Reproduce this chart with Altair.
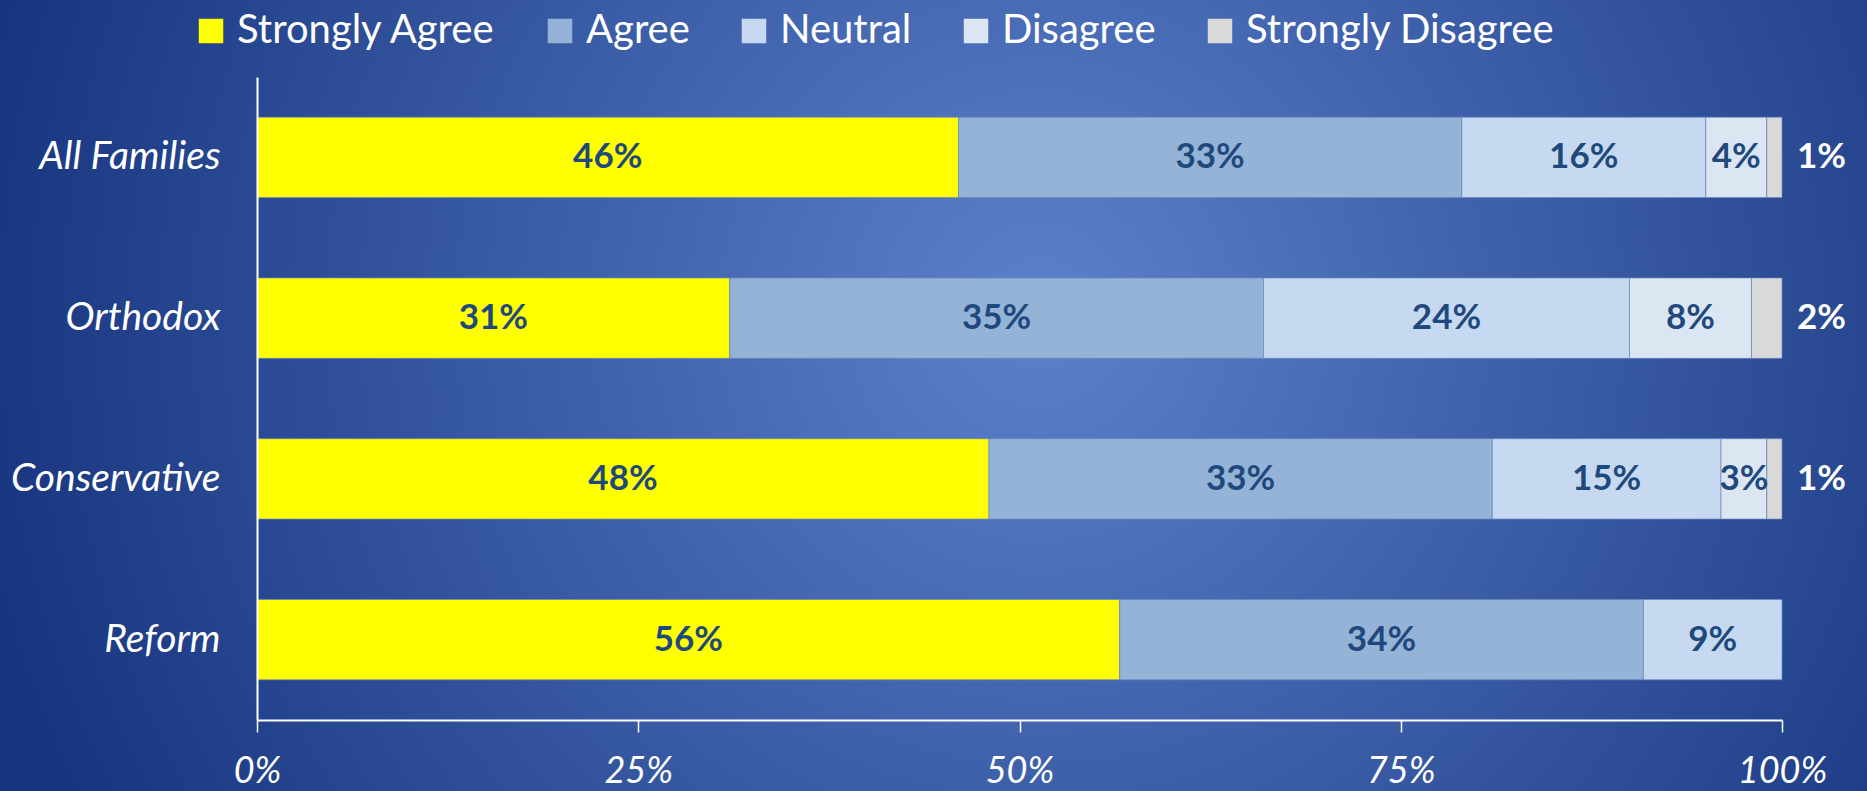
import altair as alt
import pandas as pd

# Survey responses by family affiliation (percent of respondents)
groups = ["All Families", "Orthodox", "Conservative", "Reform"]
responses = ["Strongly Agree", "Agree", "Neutral", "Disagree", "Strongly Disagree"]
colors = ["#ffff00", "#95b3d7", "#c6d9f1", "#dce6f2", "#d9d9d9"]

strongly_agree = [46, 31, 48, 56]
agree = [33, 35, 33, 34]
neutral = [16, 24, 15, 9]
disagree = [4, 8, 3, None]
strongly_disagree = [1, 2, 1, None]

series = [strongly_agree, agree, neutral, disagree, strongly_disagree]
rows = []
for i, g in enumerate(groups):
    for j, resp in enumerate(responses):
        v = series[j][i]
        if v is None:
            continue
        rows.append({"group": g, "response": resp, "order": j, "value": v})
df = pd.DataFrame(rows)

W, H = 1525, 643
PAD = {"left": 257, "top": 77, "right": 85, "bottom": 71}
FONT = "Lato"
WHITE = "#ffffff"
DARK = "#1f497d"

# Radial blue backdrop spanning the whole canvas
backdrop = alt.Chart(pd.DataFrame({"k": [0]})).mark_rect(
    fill=alt.Gradient(
        gradient="radial",
        x1=0.557, y1=0.457, r1=0,
        x2=0.557, y2=0.457, r2=0.58,
        stops=[
            alt.GradientStop(offset=0, color="#5c81cb"),
            alt.GradientStop(offset=1, color="#17357e"),
        ],
    )
).encode(
    x=alt.value(-PAD["left"]),
    x2=alt.value(W + PAD["right"]),
    y=alt.value(-PAD["top"]),
    y2=alt.value(H + PAD["bottom"]),
)

base = alt.Chart(df).transform_stack(
    stack="value",
    as_=["v0", "v1"],
    groupby=["group"],
    sort=[alt.SortField("order", order="ascending")],
    offset="normalize",
).transform_calculate(
    mid="(datum.v0 + datum.v1) / 2",
    label="datum.value + '%'",
)

y_enc = alt.Y(
    "group:N",
    sort=groups,
    scale=alt.Scale(paddingInner=0.5, paddingOuter=0.25),
    axis=alt.Axis(
        title=None,
        ticks=False,
        domainColor=WHITE,
        domainWidth=2,
        labelColor=WHITE,
        labelFont=FONT,
        labelFontSize=39,
        labelFontStyle="italic",
        labelPadding=37,
        labelLimit=1000,
        zindex=1,
    ),
)

x_scale = alt.Scale(domain=[0, 1])

bars = base.mark_bar(stroke="#6a86bd", strokeWidth=1, strokeOpacity=0.7).encode(
    x=alt.X(
        "v0:Q",
        scale=x_scale,
        axis=alt.Axis(
            title=None,
            format=".0%",
            values=[0, 0.25, 0.5, 0.75, 1],
            grid=False,
            domainColor=WHITE,
            domainWidth=2,
            tickColor=WHITE,
            tickWidth=1.5,
            tickSize=12,
            labelColor=WHITE,
            labelFont=FONT,
            labelFontSize=36,
            labelFontStyle="italic",
            labelPadding=22,
            labelFlush=False,
            zindex=1,
        ),
    ),
    x2="v1:Q",
    y=y_enc,
    color=alt.Color(
        "response:N",
        scale=alt.Scale(domain=responses, range=colors),
        legend=alt.Legend(
            title=None,
            orient="none",
            direction="horizontal",
            legendX=-66,
            legendY=-66,
            symbolType="square",
            symbolSize=600,
            symbolStrokeWidth=0,
            symbolOpacity=1,
            labelColor=WHITE,
            labelFont=FONT,
            labelFontSize=40,
            labelOffset=6,
            labelLimit=1000,
            columnPadding=44,
        ),
    ),
)

inner_labels = base.transform_filter(
    "datum.response != 'Strongly Disagree'"
).mark_text(font=FONT, fontWeight="bold", fontSize=35, color=DARK).encode(
    x=alt.X("mid:Q", scale=x_scale),
    y=alt.Y("group:N", sort=groups),
    text="label:N",
)

outer_labels = base.transform_filter(
    "datum.response == 'Strongly Disagree'"
).mark_text(
    font=FONT, fontWeight="bold", fontSize=35, color=WHITE, align="left", dx=15
).encode(
    x=alt.X("v1:Q", scale=x_scale),
    y=alt.Y("group:N", sort=groups),
    text="label:N",
)

chart = alt.layer(backdrop, bars, inner_labels, outer_labels).properties(
    width=W,
    height=H,
    padding=PAD,
    autosize=alt.AutoSizeParams(type="none"),
    background="#17357e",
).configure_view(stroke=None)

chart.save("out.html", embed_options={"renderer": "svg", "actions": False})
